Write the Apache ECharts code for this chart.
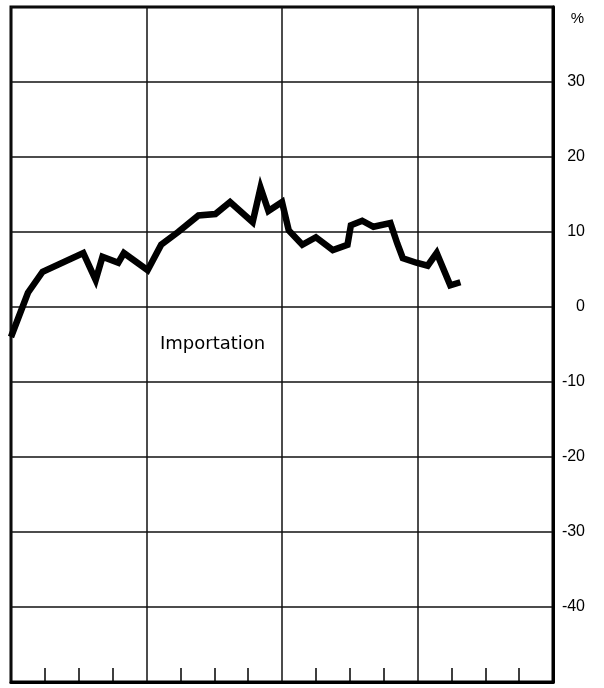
<!DOCTYPE html>
<html>
<head>
<meta charset="utf-8">
<script src="https://cdn.jsdelivr.net/npm/echarts@6/dist/echarts.min.js"></script>
<style>html,body{margin:0;padding:0;background:#fff}#c{width:604px;height:688px}</style>
</head>
<body>
<div id="c"></div>
<script>
// month index (from start of first year) and percent values
var months = [0, 1.5, 2.8, 6.4, 7.5, 8.1, 9.5, 10, 12.1, 13.3, 14.8, 16.6, 18.1, 19.4, 21.4, 22.1, 22.8, 24, 24.6, 25.8, 27, 28.5, 29.8, 30.1, 31.1, 32.1, 33.6, 34.2, 34.7, 35.9, 36.9, 37.7, 38.9, 39.8];
var importation = [-4, 1.9, 4.7, 7.2, 3.6, 6.7, 5.9, 7.2, 4.9, 8.3, 10, 12.2, 12.4, 14, 11.3, 15.9, 12.8, 14, 10.2, 8.3, 9.3, 7.6, 8.3, 10.9, 11.5, 10.7, 11.2, 8.5, 6.5, 5.9, 5.5, 7.2, 2.9, 3.3];
var yTicks = [-40, -30, -20, -10, 0, 10, 20, 30];
var seriesName = 'Importation';
var unit = '%';

var pts = months.map(function (m, i) { return [m, importation[i]]; });
var chart = echarts.init(document.getElementById('c'));
chart.setOption({
  animation: false,
  backgroundColor: '#fff',
  title: {
    text: unit, right: 15, top: 6,
    textStyle: { fontFamily: 'Liberation Sans', fontSize: 15, fontWeight: 'normal', color: '#000' }
  },
  grid: { left: 11, right: 51, top: 7, bottom: 6, show: true, borderWidth: 3, borderColor: '#000', containLabel: false },
  xAxis: {
    type: 'value', min: 0, max: 48, interval: 12,
    axisLine: { show: true, onZero: false, lineStyle: { color: '#000', width: 3 } },
    axisTick: { show: false, inside: true, length: 14 },
    minorTick: { show: true, splitNumber: 4, length: 14, lineStyle: { color: '#000', width: 1.5 } },
    axisLabel: { show: false },
    splitLine: { show: true, lineStyle: { color: '#111', width: 1.5 } }
  },
  yAxis: {
    type: 'value', position: 'right', min: -50, max: 40, interval: 10,
    axisLine: { show: true, onZero: false, lineStyle: { color: '#000', width: 3 } },
    axisTick: { show: false },
    axisLabel: {
      show: true, align: 'right', margin: 32, color: '#000',
      fontFamily: 'Liberation Sans', fontSize: 16,
      formatter: function (v) { return yTicks.indexOf(v) >= 0 ? String(v) : ''; }
    },
    splitLine: { show: true, lineStyle: { color: '#111', width: 1.5 } }
  },
  graphic: [{
    type: 'text', left: 160, top: 335,
    style: { text: seriesName, font: '18px "DejaVu Sans"', fill: '#000' }
  }],
  series: [{
    name: seriesName, type: 'line', data: pts, symbol: 'none', smooth: false,
    lineStyle: { color: '#000', width: 6.5, join: 'miter' }
  }]
});
</script>
</body>
</html>
